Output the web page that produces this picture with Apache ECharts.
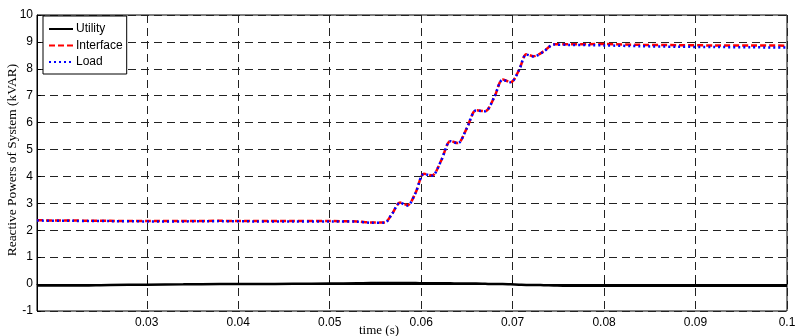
<!DOCTYPE html>
<html>
<head>
<meta charset="utf-8">
<script src="https://cdn.jsdelivr.net/npm/echarts@6/dist/echarts.min.js"></script>
<style>
  html, body { margin: 0; padding: 0; background: #fff; }
  #chart { width: 796px; height: 336px; }
</style>
</head>
<body>
<div id="chart"></div>
<script>
// Sample times (s)
const time = [0.018, 0.022, 0.026, 0.03, 0.034, 0.038, 0.042, 0.046, 0.05, 0.053,
  0.0545, 0.056, 0.0568, 0.0577, 0.0585, 0.0594, 0.0603, 0.0612, 0.0622, 0.0632,
  0.064, 0.065, 0.066, 0.067, 0.068, 0.0689, 0.0698, 0.0707, 0.0715, 0.0723,
  0.0734, 0.0745, 0.076, 0.08, 0.084, 0.088, 0.092, 0.096, 0.1];

// Reactive power (kVAR) per source
const utility = [-0.05, -0.05, -0.03, -0.02, -0.01, 0.0, 0.0, 0.01, 0.02, 0.03,
  0.04, 0.04, 0.04, 0.04, 0.04, 0.04, 0.03, 0.03, 0.03, 0.03,
  0.02, 0.02, 0.02, 0.01, 0.0, 0.0, -0.01, -0.02, -0.03, -0.03,
  -0.04, -0.05, -0.06, -0.06, -0.06, -0.06, -0.06, -0.06, -0.06];
const interfaceQ = [2.37, 2.36, 2.35, 2.34, 2.34, 2.35, 2.34, 2.34, 2.34, 2.33,
  2.29, 2.29, 2.6, 3.03, 2.93, 3.4, 4.10, 4.04, 4.6, 5.32,
  5.24, 5.8, 6.46, 6.43, 6.95, 7.60, 7.51, 7.95, 8.54, 8.47,
  8.65, 8.91, 8.91, 8.92, 8.89, 8.88, 8.87, 8.87, 8.86];
const loadQ = [2.36, 2.35, 2.34, 2.33, 2.33, 2.34, 2.33, 2.33, 2.33, 2.32,
  2.28, 2.28, 2.6, 3.02, 2.92, 3.4, 4.09, 4.03, 4.6, 5.31,
  5.23, 5.8, 6.45, 6.42, 6.95, 7.59, 7.50, 7.95, 8.53, 8.46,
  8.64, 8.90, 8.89, 8.87, 8.84, 8.82, 8.81, 8.80, 8.79];

// Axis ticks
const xTicks = [0.03, 0.04, 0.05, 0.06, 0.07, 0.08, 0.09, 0.1];
const yMin = -1, yMax = 10, yStep = 1;

const pair = (ys) => time.map((t, i) => [t, ys[i]]);

const sans = 'Liberation Sans, Arial, sans-serif';
const serif = 'Liberation Serif, Times New Roman, serif';
const gridDash = { color: '#222', width: 1, type: [8, 5] };

const chart = echarts.init(document.getElementById('chart'), null, { renderer: 'canvas' });
chart.setOption({
  animation: false,
  backgroundColor: '#fff',
  grid: {
    left: 37, right: 9, top: 15, bottom: 25, outerBoundsMode: 'none', containLabel: false,
    show: true, borderColor: '#000', borderWidth: 1, backgroundColor: 'transparent'
  },
  title: {
    text: 'time (s)', left: 354, top: 319,
    textStyle: { fontFamily: serif, fontSize: 13, fontWeight: 'normal', color: '#000' }
  },
  legend: {
    orient: 'vertical', left: 43, top: 16,
    padding: [7, 4, 6, 5], itemGap: 4.5, itemWidth: 24, itemHeight: 12,
    borderColor: '#000', borderWidth: 1, backgroundColor: '#fff',
    itemStyle: { opacity: 0, borderWidth: 0 },
    textStyle: { fontFamily: sans, fontSize: 12, color: '#000', padding: [0, 0, 0, -2] },
    data: ['Utility', 'Interface', 'Load']
  },
  xAxis: {
    type: 'value', min: 0.018, max: 0.1,
    axisLine: { show: true, lineStyle: { color: '#000', width: 1 } },
    axisTick: { show: true, inside: true, length: 4, customValues: xTicks, lineStyle: { color: '#000' } },
    axisLabel: { customValues: xTicks, fontFamily: sans, fontSize: 12, color: '#000', margin: 6 },
    splitLine: { show: true, lineStyle: gridDash }
  },
  yAxis: {
    type: 'value', min: yMin, max: yMax, interval: yStep,
    name: 'Reactive Powers of System (kVAR)', nameLocation: 'middle', nameGap: 18,
    nameMoveOverlap: false,
    nameTextStyle: { fontFamily: serif, fontSize: 13.4, color: '#000', padding: [0, 0, 0, 6] },
    axisLine: { show: true, lineStyle: { color: '#000', width: 1 } },
    axisTick: { show: true, inside: true, length: 4, lineStyle: { color: '#000' } },
    axisLabel: { fontFamily: sans, fontSize: 12, color: '#000', margin: 4 },
    splitLine: { show: true, lineStyle: gridDash }
  },
  series: [
    {
      name: 'Utility', type: 'line', data: pair(utility), symbol: 'none', smooth: 0.3,
      lineStyle: { color: '#000', width: 2.5, type: 'solid' }, itemStyle: { color: '#000' }
    },
    {
      name: 'Interface', type: 'line', data: pair(interfaceQ), symbol: 'none', smooth: 0.3,
      lineStyle: { color: '#f00', width: 2.5, type: [6, 3] }, itemStyle: { color: '#f00' }
    },
    {
      name: 'Load', type: 'line', data: pair(loadQ), symbol: 'none', smooth: 0.3,
      lineStyle: { color: '#00f', width: 2.5, type: [2, 3] }, itemStyle: { color: '#00f' }
    }
  ]
});
</script>
</body>
</html>
